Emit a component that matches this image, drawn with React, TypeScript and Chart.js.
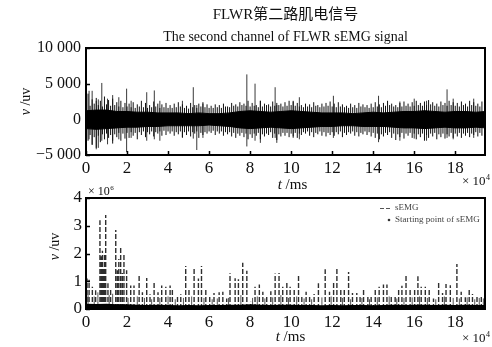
import React, { useEffect, useRef } from 'react';
import { Chart, registerables } from 'chart.js';

Chart.register(...registerables);

const SERIF = '"Liberation Serif", "Times New Roman", serif';
const SERIF_CJK = '"Liberation Serif", "Noto Sans CJK SC", serif';

// ---- text ----
const titleCn = 'FLWR第二路肌电信号';
const titleEn = 'The second channel of FLWR sEMG signal';
const xAxisItalic = 't';
const xAxisRest = ' /ms';
const yAxisItalic = 'v';
const yAxisRest = ' /uv';
const xExponent = '4';
const yExponentBottom = '6';
const legendLabels = ['sEMG', 'Starting point of sEMG'];

// ---- ticks ----
const xTicks = [0, 2, 4, 6, 8, 10, 12, 14, 16, 18];
const yTicksTop = [-5000, 0, 5000, 10000];
const yTicksBottom = [0, 1, 2, 3, 4];
const X_MAX = 19.45; // ×10^4 ms

// ---- top chart: raw sEMG (uV), time in ×10^4 ms ----
// dense core of the signal, sampled every 0.5
const CORE_STEP = 0.5;
const coreHi = [1200, 1300, 1300, 1100, 1100, 1000, 1000, 900, 900, 900, 800, 900, 800, 800, 900, 1100, 1200, 1100, 1000, 1100,
  1200, 1100, 1000, 900, 900, 900, 800, 900, 1000, 900, 1000, 1100, 1100, 1200, 1100, 1000, 1100, 1100, 1000, 1100];
const coreLo = [-1300, -1400, -1300, -1200, -1100, -1100, -1000, -1000, -900, -900, -900, -900, -800, -900, -1000, -1200, -1300, -1200, -1100, -1200,
  -1300, -1200, -1100, -1000, -1000, -900, -900, -1000, -1000, -1000, -1100, -1200, -1200, -1300, -1200, -1100, -1200, -1200, -1100, -1200];

// regular excursions beyond the core, one every 0.2 starting at 0.1
const FRINGE_START = 0.1;
const FRINGE_STEP = 0.2;
const fringeHi = [
  3600, 2800, 3000, 2600, 3200, 2700, 2900, 2400, 2600, 2300,
  2200, 2400, 2100, 2600, 2300, 2000, 2500, 2200, 2100, 2300,
  2000, 2200, 2400, 2100, 1900, 2300, 2000, 2200, 2400, 2100,
  1900, 2100, 2000, 2200, 1800, 2300, 2100, 2400, 2200, 2600,
  2300, 2000, 2600, 2200, 2100, 2500, 2300, 2200, 2400, 2600,
  2500, 2300, 2000, 2200, 2100, 2400, 2000, 2200, 2300, 2500,
  2200, 2400, 2100, 1900, 2200, 2000, 2300, 2100, 2000, 2200,
  2400, 2100, 2300, 2600, 2200, 2000, 2300, 2500, 2200, 2400,
  2600, 2300, 2500, 2700, 2400, 2200, 2500, 2300, 2600, 2400,
  2300, 2500, 2200, 2600, 2400, 2200, 2500];
const fringeLo = [
  -3000, -3600, -4000, -3200, -2800, -2600, -3400, -2500, -3000, -2700,
  -2600, -2300, -2800, -2200, -2500, -2100, -2400, -2000, -2300, -2200,
  -2000, -2300, -2100, -2500, -2200, -2400, -2000, -2600, -2200, -2000,
  -1900, -2200, -2000, -2300, -2100, -2400, -2600, -2300, -2500, -2800,
  -2600, -2300, -2800, -2400, -2200, -2600, -2900, -2400, -2300, -2500,
  -2400, -2600, -2200, -2000, -2300, -2500, -2100, -2300, -2400, -2200,
  -2300, -2100, -2500, -2200, -2000, -2300, -2400, -2100, -2200, -2400,
  -2600, -2800, -2400, -2200, -2600, -2900, -2500, -2700, -2300, -2600,
  -2800, -2500, -3000, -2600, -2400, -2800, -2500, -2700, -2400, -2600,
  -2400, -2600, -2300, -2500, -2200, -2400, -2300];

// secondary excursions, interleaved halfway between the regular ones
const FRINGE2_START = 0.2;
const fringe2Hi = [
  1900, 2200, 2000, 1800, 2100, 1900, 2000, 1800, 1700, 1800,
  1700, 1600, 1800, 1700, 1600, 1700, 1800, 1600, 1700, 1600,
  1600, 1700, 1800, 1600, 1500, 1700, 1600, 1800, 1700, 1600,
  1600, 1700, 1600, 1800, 1700, 1900, 1800, 2000, 1900, 1800,
  1900, 1700, 1800, 2000, 1800, 1900, 2000, 1800, 1900, 2000,
  1900, 1800, 1700, 1800, 1700, 1900, 1700, 1800, 1900, 1800,
  1700, 1800, 1700, 1600, 1700, 1600, 1800, 1700, 1600, 1700,
  1800, 1700, 1900, 2000, 1800, 1700, 1800, 1900, 1800, 1900,
  2000, 1900, 2000, 2100, 1900, 1800, 2000, 1900, 2000, 1900,
  1800, 2000, 1800, 2000, 1900, 1800];
const fringe2Lo = [
  -2200, -2500, -2300, -2100, -2000, -2200, -2100, -1900, -2000, -1900,
  -1800, -1900, -1800, -1700, -1800, -1700, -1800, -1700, -1600, -1700,
  -1700, -1800, -1700, -1800, -1700, -1800, -1700, -1900, -1800, -1700,
  -1600, -1700, -1700, -1800, -1800, -1900, -2000, -1900, -2000, -2100,
  -2000, -1900, -2100, -2000, -1800, -2000, -2100, -1900, -1900, -2000,
  -1900, -2000, -1800, -1700, -1800, -1900, -1700, -1800, -1900, -1800,
  -1800, -1700, -1900, -1800, -1700, -1800, -1900, -1700, -1800, -1900,
  -2000, -2100, -1900, -1800, -2000, -2100, -1900, -2000, -1900, -2000,
  -2100, -2000, -2200, -2000, -1900, -2100, -2000, -2100, -1900, -2000,
  -1900, -2000, -1900, -2000, -1800, -1900];

// prominent spikes
const peakT = [0.15, 0.3, 0.5, 0.6, 0.77, 1.05, 1.3, 1.6, 1.98, 2.2, 2.96, 3.33, 3.6, 4.7, 5.23, 5.4, 5.7, 7.84, 8.24, 8.5,
  9.22, 9.3, 10.1, 10.4, 12.06, 14.26, 15.3, 16.0, 16.6, 17.6, 17.9, 18.9];
const peakHi = [4000, 4000, 2600, 2800, 5100, 2900, 3400, 3100, 4300, 2600, 3800, 4050, 2600, 2600, 4500, 2000, 2200, 6300, 5000, 2600,
  4500, 2000, 2600, 3100, 3300, 3300, 2500, 2900, 2600, 4200, 2900, 2900];
const peakLo = [-2800, -3500, -4200, -4000, -3000, -3500, -3000, -2800, -4600, -2600, -3000, -2800, -3000, -2600, -2700, -4300, -2600, -3800, -3000, -3300,
  -2600, -3300, -2600, -2800, -2600, -3200, -3000, -2700, -3000, -2600, -2800, -2600];

// ---- bottom chart: processed sEMG (×10^6 uV) ----
const FLOOR_STEP = 0.5;
const floorHi = [0.16, 0.15, 0.16, 0.14, 0.14, 0.13, 0.12, 0.13, 0.12, 0.11, 0.12, 0.11, 0.12, 0.12, 0.13, 0.13, 0.14, 0.13, 0.12, 0.13,
  0.13, 0.12, 0.12, 0.11, 0.12, 0.11, 0.12, 0.12, 0.11, 0.12, 0.13, 0.12, 0.13, 0.13, 0.12, 0.13, 0.12, 0.13, 0.12, 0.12];

const semgT = [0.05, 0.15, 0.31, 0.47, 0.68, 0.75, 0.8, 0.85, 0.9, 0.96, 1.07, 1.2, 1.45, 1.53, 1.6, 1.69, 1.77, 1.85, 1.98, 2.18,
  2.34, 2.59, 2.75, 2.96, 3.12, 3.32, 3.51, 3.69, 3.89, 4.1, 4.21, 4.46, 4.62, 4.86, 5.02, 5.27, 5.48, 5.63, 5.84, 6.03,
  6.24, 6.49, 6.67, 6.86, 7.02, 7.27, 7.43, 7.64, 7.84, 8.03, 8.24, 8.45, 8.62, 8.81, 9.01, 9.22, 9.41, 9.59, 9.79, 9.95,
  10.15, 10.36, 10.52, 10.73, 10.9, 11.12, 11.33, 11.66, 11.87, 12.07, 12.23, 12.42, 12.59, 12.8, 12.99, 13.2, 13.36, 13.53, 13.74, 13.9,
  14.1, 14.29, 14.5, 14.67, 14.88, 15.07, 15.24, 15.4, 15.6, 15.8, 16.02, 16.18, 16.34, 16.54, 16.73, 16.94, 17.19, 17.38, 17.55, 17.76,
  18.08, 18.29, 18.49, 18.68, 18.84, 19.06, 19.27];
const semgV = [1.1, 1.05, 0.8, 0.68, 3.2, 1.9, 2.1, 1.5, 2.0, 3.39, 0.93, 0.7, 2.85, 1.4, 1.8, 2.2, 1.3, 2.02, 1.4, 0.85,
  0.85, 1.22, 0.6, 1.12, 0.53, 1.0, 0.6, 0.85, 0.8, 0.85, 0.75, 0.48, 0.53, 1.55, 0.7, 1.5, 1.1, 1.55, 0.7, 0.48,
  0.58, 0.6, 0.62, 0.38, 1.29, 1.11, 1.07, 1.67, 1.38, 0.26, 0.8, 0.88, 0.62, 0.44, 0.64, 1.28, 1.3, 0.8, 0.95, 0.8,
  0.76, 1.19, 0.47, 0.62, 0.47, 0.54, 0.93, 1.43, 0.62, 0.98, 1.46, 0.7, 0.76, 1.33, 0.58, 0.58, 0.47, 0.76, 0.44, 0.5,
  0.7, 0.8, 0.88, 0.88, 0.44, 0.5, 0.76, 0.84, 1.2, 0.76, 0.7, 1.18, 0.8, 0.8, 0.76, 0.38, 0.95, 0.58, 0.9, 0.86,
  1.62, 0.62, 0.42, 0.7, 0.54, 0.44, 0.44];

// low solid sub-peaks between the main dashed ones
const smallT = [0.1, 0.4, 0.58, 1.13, 1.3, 2.05, 2.5, 2.85, 3.2, 3.6, 4.0, 4.35, 4.75, 5.15, 5.75, 6.15, 6.4, 6.95, 7.55, 8.12,
  8.35, 8.72, 9.1, 9.5, 9.87, 10.27, 10.63, 11.0, 11.5, 11.95, 12.5, 12.9, 13.45, 13.82, 14.2, 14.78, 15.15, 15.5, 15.9, 16.26,
  16.64, 17.05, 17.47, 17.9, 18.2, 18.58, 18.95, 19.17, 19.37];
const smallV = [0.5, 0.45, 0.6, 0.5, 0.55, 0.4, 0.45, 0.4, 0.35, 0.4, 0.45, 0.35, 0.4, 0.45, 0.4, 0.35, 0.38, 0.4, 0.5, 0.4,
  0.45, 0.38, 0.42, 0.5, 0.4, 0.45, 0.38, 0.35, 0.42, 0.45, 0.4, 0.35, 0.4, 0.35, 0.42, 0.45, 0.38, 0.4, 0.42, 0.45,
  0.4, 0.35, 0.45, 0.4, 0.38, 0.42, 0.35, 0.4, 0.38];

// ---- helpers ----
const fmtThousands = (v: number) => {
  const s = Math.abs(v).toString().replace(/\B(?=(\d{3})+(?!\d))/g, ' ');
  return (v < 0 ? '\u2212' : '') + s;
};

const vSegments = (ts: number[], los: number[], his: number[]) => {
  const out: { x: number; y: number | null }[] = [];
  ts.forEach((t, i) => {
    out.push({ x: t, y: los[i] }, { x: t, y: his[i] }, { x: t, y: null });
  });
  return out;
};

function drawSci(ctx: CanvasRenderingContext2D, xRight: number, baseline: number, exp: string, size: number) {
  ctx.save();
  ctx.fillStyle = '#111';
  ctx.textBaseline = 'alphabetic';
  ctx.font = `${Math.round(size * 0.62)}px ${SERIF}`;
  const ew = ctx.measureText(exp).width;
  ctx.textAlign = 'left';
  ctx.fillText(exp, xRight - ew, baseline - size * 0.42);
  ctx.font = `${size}px ${SERIF}`;
  ctx.textAlign = 'right';
  ctx.fillText('\u00d7 10', xRight - ew - 0.5, baseline);
  ctx.restore();
}

function drawMixed(ctx: CanvasRenderingContext2D, cx: number, cy: number, italic: string, rest: string, size: number, rotate: boolean) {
  ctx.save();
  ctx.translate(cx, cy);
  if (rotate) ctx.rotate(-Math.PI / 2);
  ctx.fillStyle = '#111';
  ctx.textBaseline = 'middle';
  ctx.textAlign = 'left';
  const fi = `italic ${size}px ${SERIF}`;
  const fr = `${size}px ${SERIF}`;
  ctx.font = fi;
  const wi = ctx.measureText(italic).width;
  ctx.font = fr;
  const wr = ctx.measureText(rest).width;
  const x0 = -(wi + wr) / 2;
  ctx.font = fi;
  ctx.fillText(italic, x0, 0);
  ctx.font = fr;
  ctx.fillText(rest, x0 + wi, 0);
  ctx.restore();
}

function frameAndTicks(chart: any) {
  const ctx: CanvasRenderingContext2D = chart.ctx;
  const { left, right, top, bottom } = chart.chartArea;
  const xs = chart.scales.x;
  const ys = chart.scales.y;
  ctx.save();
  ctx.strokeStyle = '#000';
  ctx.lineWidth = 1.5;
  ctx.beginPath();
  xs.ticks.forEach((t: any) => {
    const px = Math.round(xs.getPixelForValue(t.value)) + 0.5;
    ctx.moveTo(px, bottom);
    ctx.lineTo(px, bottom - 4);
  });
  ys.ticks.forEach((t: any) => {
    const py = Math.round(ys.getPixelForValue(t.value)) + 0.5;
    ctx.moveTo(left, py);
    ctx.lineTo(left + 4, py);
  });
  ctx.stroke();
  ctx.lineWidth = 2;
  ctx.strokeRect(left, top, right - left, bottom - top);
  ctx.restore();
}

const xScale = (height: number) => ({
  type: 'linear' as const,
  min: 0,
  max: X_MAX,
  grid: { display: false, drawTicks: false },
  border: { display: false },
  afterBuildTicks: (s: any) => { s.ticks = xTicks.map((v) => ({ value: v })); },
  afterFit: (s: any) => { s.height = height; },
  ticks: {
    autoSkip: false,
    maxRotation: 0,
    padding: 3,
    color: '#111',
    font: { family: SERIF, size: 17 },
    callback: (v: any) => String(v),
  },
});

function topConfig(): any {
  const topPlugin = {
    id: 'topDeco',
    afterDraw(chart: any) {
      frameAndTicks(chart);
      const ctx = chart.ctx as CanvasRenderingContext2D;
      const { left, right, top, bottom } = chart.chartArea;
      drawMixed(ctx, (left + right) / 2 + 7, 185, xAxisItalic, xAxisRest, 15, false);
      drawMixed(ctx, 26, (top + bottom) / 2, yAxisItalic, yAxisRest, 14, true);
      drawSci(ctx, 490, 185, xExponent, 13);
    },
  };
  const seg = { pointRadius: 0, fill: false, spanGaps: false };
  return {
    type: 'line',
    data: {
      datasets: [
        {
          label: 'core+',
          data: coreHi.map((y, i) => ({ x: i * CORE_STEP, y })),
          borderColor: '#000', backgroundColor: '#000', borderWidth: 1, pointRadius: 0, fill: '+1',
        },
        {
          label: 'core-',
          data: coreLo.map((y, i) => ({ x: i * CORE_STEP, y })),
          borderColor: '#000', borderWidth: 1, pointRadius: 0, fill: false,
        },
        {
          label: 'fringe',
          data: vSegments(fringeHi.map((_, i) => FRINGE_START + i * FRINGE_STEP), fringeLo, fringeHi),
          borderColor: '#111', borderWidth: 1, ...seg,
        },
        {
          label: 'fringe2',
          data: vSegments(fringe2Hi.map((_, i) => FRINGE2_START + i * FRINGE_STEP), fringe2Lo, fringe2Hi),
          borderColor: '#111', borderWidth: 1, ...seg,
        },
        {
          label: 'peaks',
          data: vSegments(peakT, peakLo, peakHi),
          borderColor: '#222', borderWidth: 0.9, ...seg,
        },
      ],
    },
    options: {
      responsive: false,
      animation: false,
      devicePixelRatio: 1,
      layout: { padding: { left: 0, right: 7, top: 0, bottom: 0 } },
      plugins: {
        legend: { display: false },
        tooltip: { enabled: false },
        title: {
          display: true, text: titleCn, fullSize: false, color: '#111',
          font: { family: SERIF_CJK, size: 15, weight: 'normal' },
          padding: { top: 6, bottom: 2 },
        },
        subtitle: {
          display: true, text: titleEn, fullSize: false, color: '#111',
          font: { family: SERIF, size: 14, weight: 'normal' },
          padding: { top: 2.6, bottom: 2.6 },
        },
      },
      scales: {
        x: xScale(40),
        y: {
          type: 'linear', min: -5000, max: 10000,
          grid: { display: false, drawTicks: false },
          border: { display: false },
          afterBuildTicks: (s: any) => { s.ticks = yTicksTop.map((v) => ({ value: v })); },
          afterFit: (s: any) => { s.width = 86; },
          ticks: { padding: 5, color: '#111', font: { family: SERIF, size: 16 }, callback: (v: any) => fmtThousands(Number(v)) },
        },
      },
    },
    plugins: [topPlugin],
  };
}

function bottomConfig(): any {
  const botPlugin = {
    id: 'botDeco',
    afterDraw(chart: any) {
      frameAndTicks(chart);
      const ctx = chart.ctx as CanvasRenderingContext2D;
      const { left, right, top, bottom } = chart.chartArea;
      drawMixed(ctx, (left + right) / 2 + 5, 157, xAxisItalic, xAxisRest, 15, false);
      drawMixed(ctx, 55, (top + bottom) / 2 - 7, yAxisItalic, yAxisRest, 14, true);
      drawSci(ctx, 490, 162, xExponent, 13);
      // ×10^6 above the y axis
      ctx.save();
      ctx.font = `12px ${SERIF}`;
      const w = ctx.measureText('\u00d7 10').width;
      drawSci(ctx, left + w + 6, top - 3, yExponentBottom, 12);
      ctx.restore();
      // legend
      ctx.save();
      const lx = right - 105;
      const y1 = top + 10;
      const y2 = top + 22;
      ctx.strokeStyle = '#555';
      ctx.lineWidth = 1;
      ctx.setLineDash([4, 2]);
      ctx.beginPath();
      ctx.moveTo(lx, y1 + 0.5);
      ctx.lineTo(lx + 12, y1 + 0.5);
      ctx.stroke();
      ctx.setLineDash([]);
      ctx.fillStyle = '#333';
      ctx.beginPath();
      ctx.arc(lx + 9, y2, 1.3, 0, Math.PI * 2);
      ctx.fill();
      ctx.fillStyle = '#444';
      ctx.font = `9px ${SERIF}`;
      ctx.textBaseline = 'middle';
      ctx.textAlign = 'left';
      ctx.fillText(legendLabels[0], lx + 15, y1);
      ctx.fillText(legendLabels[1], lx + 15, y2);
      ctx.restore();
    },
  };
  return {
    type: 'line',
    data: {
      datasets: [
        {
          label: 'floor',
          data: floorHi.map((y, i) => ({ x: i * FLOOR_STEP, y })),
          borderColor: '#000', backgroundColor: '#000', borderWidth: 1.5, pointRadius: 0, fill: 'origin',
        },
        {
          label: legendLabels[1],
          type: 'scatter',
          data: semgT.map((t) => ({ x: t, y: 0.02 })),
          backgroundColor: '#000', pointRadius: 1, borderWidth: 0,
        },
        {
          label: legendLabels[0],
          data: vSegments(semgT, semgT.map(() => 0), semgV),
          borderColor: '#2e2e2e', borderWidth: 1.4, borderDash: [5, 2], pointRadius: 0, fill: false, spanGaps: false,
        },
        {
          label: 'sub-peaks',
          data: vSegments(smallT, smallT.map(() => 0), smallV),
          borderColor: '#555', borderWidth: 1, pointRadius: 0, fill: false, spanGaps: false,
        },
      ],
    },
    options: {
      responsive: false,
      animation: false,
      devicePixelRatio: 1,
      layout: { padding: { left: 0, right: 7, top: 18, bottom: 0 } },
      plugins: { legend: { display: false }, tooltip: { enabled: false } },
      scales: {
        x: xScale(38),
        y: {
          type: 'linear', min: 0, max: 4,
          grid: { display: false, drawTicks: false },
          border: { display: false },
          afterBuildTicks: (s: any) => { s.ticks = yTicksBottom.map((v) => ({ value: v })); },
          afterFit: (s: any) => { s.width = 86; },
          ticks: { padding: 4, color: '#111', font: { family: SERIF, size: 17 }, callback: (v: any) => String(v) },
        },
      },
    },
    plugins: [botPlugin],
  };
}

export default function App() {
  const topRef = useRef<HTMLCanvasElement>(null);
  const botRef = useRef<HTMLCanvasElement>(null);
  useEffect(() => {
    const c1 = new Chart(topRef.current as HTMLCanvasElement, topConfig());
    const c2 = new Chart(botRef.current as HTMLCanvasElement, bottomConfig());
    return () => { c1.destroy(); c2.destroy(); };
  }, []);
  return (
    <div style={{ position: 'absolute', left: 0, top: 0, width: 492, height: 347, background: '#fff' }}>
      <canvas ref={topRef} width={492} height={195} style={{ position: 'absolute', left: 0, top: 0 }} />
      <canvas ref={botRef} width={492} height={167} style={{ position: 'absolute', left: 0, top: 180 }} />
    </div>
  );
}
